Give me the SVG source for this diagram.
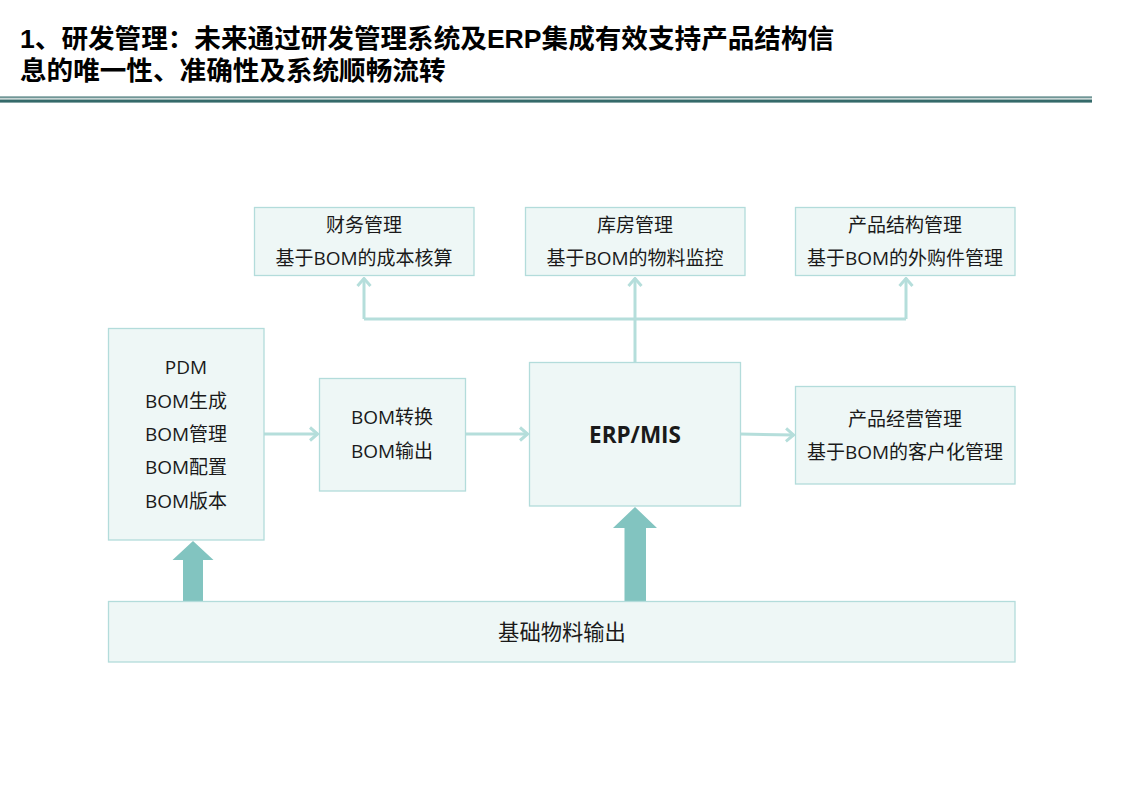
<svg xmlns="http://www.w3.org/2000/svg" width="1123" height="794" viewBox="0 0 1123 794">
<defs>
<style>
.box{fill:#eef7f6;stroke:#b3dcdb;stroke-width:1.3}
.t{font-family:"Open Sans","Noto Sans CJK SC",sans-serif;font-size:19px;fill:#1a1a1a;text-anchor:middle}
.b{font-weight:bold;font-size:22.5px}
.lg{font-size:21.3px}
.title{font-family:"Liberation Sans","Noto Sans CJK SC",sans-serif;font-size:26.6px;font-weight:bold;fill:#000}
.conn{fill:none;stroke:#b5dedb;stroke-width:3}
.big{fill:#82c4c0}
</style>
<marker id="chev" viewBox="0 0 10 16" refX="9" refY="8" markerWidth="10" markerHeight="16" markerUnits="userSpaceOnUse" orient="auto">
<path d="M1,1.5 L8.5,8 L1,14.5" fill="none" stroke="#b5dedb" stroke-width="3"/>
</marker>
</defs>
<rect width="1123" height="794" fill="#fff"/>
<g id="title">
<text class="title" x="20" y="48">1、研发管理：未来通过研发管理系统及ERP集成有效支持产品结构信</text>
<text class="title" x="20" y="80">息的唯一性、准确性及系统顺畅流转</text>
<rect x="0" y="96.5" width="1092" height="1.3" fill="#356a6a"/>
<rect x="0" y="97.8" width="1092" height="1.8" fill="#c9d6d5"/>
<rect x="0" y="99.6" width="1092" height="3" fill="#356a6a"/>
</g>
<g id="connectors">
<path class="conn" d="M364,319 H906"/>
<path class="conn" d="M364,319 V278" marker-end="url(#chev)"/>
<path class="conn" d="M906,319 V278" marker-end="url(#chev)"/>
<path class="conn" d="M635,362 V278" marker-end="url(#chev)"/>
<path class="conn" d="M264,434 H318" marker-end="url(#chev)"/>
<path class="conn" d="M465,434 H528" marker-end="url(#chev)"/>
<path class="conn" d="M740,434 L794,435" marker-end="url(#chev)"/>
<polygon class="big" points="193,541 213.5,560 203,560 203,601 183,601 183,560 172.5,560"/>
<polygon class="big" points="635,507 657,528 646,528 646,601 624.5,601 624.5,528 613,528"/>
</g>
<g id="finance">
<rect class="box" x="254.5" y="207.5" width="219.5" height="68"/>
<text class="t" x="364" y="231.5">财务管理</text>
<text class="t" x="364" y="264.5">基于BOM的成本核算</text>
</g>
<g id="warehouse">
<rect class="box" x="525.5" y="207.5" width="219.5" height="68"/>
<text class="t" x="635" y="231.5">库房管理</text>
<text class="t" x="635" y="264.5">基于BOM的物料监控</text>
</g>
<g id="structure">
<rect class="box" x="795.5" y="207.5" width="219.5" height="68"/>
<text class="t" x="905" y="231.5">产品结构管理</text>
<text class="t" x="905" y="264.5">基于BOM的外购件管理</text>
</g>
<g id="pdm">
<rect class="box" x="108.5" y="328.5" width="155.5" height="211.5"/>
<text class="t" x="186" y="373.5">PDM</text>
<text class="t" x="186" y="407.5">BOM生成</text>
<text class="t" x="186" y="440.5">BOM管理</text>
<text class="t" x="186" y="473.5">BOM配置</text>
<text class="t" x="186" y="507.5">BOM版本</text>
</g>
<g id="convert">
<rect class="box" x="319.5" y="378.5" width="146" height="112.5"/>
<text class="t" x="392" y="423.5">BOM转换</text>
<text class="t" x="392" y="457.5">BOM输出</text>
</g>
<g id="erp">
<rect class="box" x="529.5" y="362.5" width="211" height="143.5"/>
<text class="t b" x="635" y="443">ERP/MIS</text>
</g>
<g id="business">
<rect class="box" x="795.5" y="386.5" width="219.5" height="97.5"/>
<text class="t" x="905" y="425.5">产品经营管理</text>
<text class="t" x="905" y="458.5">基于BOM的客户化管理</text>
</g>
<g id="material">
<rect class="box" x="108.5" y="601.5" width="906.5" height="60.5"/>
<text class="t lg" x="562" y="639.5">基础物料输出</text>
</g>
</svg>
